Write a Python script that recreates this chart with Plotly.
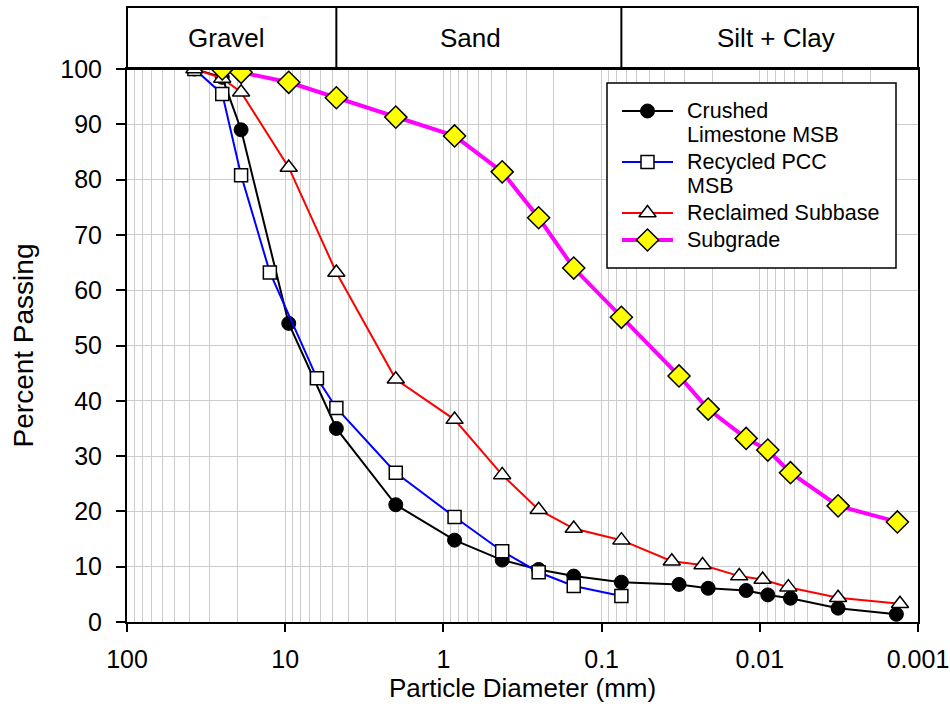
import math
import plotly.graph_objects as go

# ---- data ----
crushed_d = [37.5, 25, 19, 9.5, 4.75, 2.0, 0.85, 0.425, 0.25, 0.15, 0.075,
             0.0324, 0.0212, 0.0122, 0.0089, 0.0064, 0.0032, 0.00137]
crushed_p = [100, 98.5, 89, 54, 35, 21.2, 14.8, 11.2, 9.5, 8.3, 7.2,
             6.8, 6.1, 5.7, 4.9, 4.3, 2.5, 1.4]

pcc_d = [37.5, 25, 19, 12.5, 6.3, 4.75, 2.0, 0.85, 0.425, 0.25, 0.15, 0.075]
pcc_p = [100, 95.5, 80.8, 63.2, 44.1, 38.7, 27.0, 19.0, 12.8, 9.0, 6.5, 4.7]

reclaimed_d = [37.5, 25, 19, 9.5, 4.75, 2.0, 0.85, 0.425, 0.25, 0.15, 0.075,
               0.036, 0.023, 0.0135, 0.0096, 0.0066, 0.0032, 0.0013]
reclaimed_p = [100, 98.3, 95.8, 82.2, 63.2, 43.9, 36.6, 26.6, 20.3, 16.9, 14.8,
               11.0, 10.3, 8.3, 7.7, 6.3, 4.4, 3.3]

subgrade_d = [25, 19, 9.5, 4.75, 2.0, 0.85, 0.425, 0.25, 0.15, 0.075,
              0.0324, 0.0212, 0.0122, 0.0089, 0.0064, 0.0032, 0.00135]
subgrade_p = [100, 99.4, 97.6, 94.8, 91.3, 87.9, 81.4, 73.1, 64.0, 55.1,
              44.5, 38.5, 33.2, 31.1, 27.0, 21.0, 18.1]

series_names = [["Crushed", "Limestone MSB"], ["Recycled PCC", "MSB"],
                ["Reclaimed Subbase"], ["Subgrade"]]

x_tick_vals = [100, 10, 1, 0.1, 0.01, 0.001]
x_tick_text = ["100", "10", "1", "0.1", "0.01", "0.001"]

band_labels = ["Gravel", "Sand", "Silt + Clay"]
band_edges = [100, 4.75, 0.075, 0.001]

FONT = "Liberation Sans, Arial, sans-serif"

styles = [
    dict(line=dict(color="black", width=2),
         marker=dict(symbol="circle", size=14, color="black",
                     line=dict(color="black", width=1))),
    dict(line=dict(color="#0000ff", width=2),
         marker=dict(symbol="square", size=13, color="white",
                     line=dict(color="black", width=1.5))),
    dict(line=dict(color="#ff0000", width=2),
         marker=dict(symbol="triangle-up", size=15, color="white",
                     line=dict(color="black", width=1.5))),
    dict(line=dict(color="#ff00ff", width=4),
         marker=dict(symbol="diamond", size=17, color="#ffff00",
                     line=dict(color="black", width=1.5))),
]

data = [(crushed_d, crushed_p), (pcc_d, pcc_p),
        (reclaimed_d, reclaimed_p), (subgrade_d, subgrade_p)]

fig = go.Figure()
for (d, p), st, nm in zip(data, styles, series_names):
    fig.add_trace(go.Scatter(x=d, y=p, name=" ".join(nm),
                             mode="lines+markers", showlegend=False,
                             hoverinfo="skip", **st))

# minor grid values
minor_vals = []
for k in range(-3, 2):
    for m in range(2, 10):
        minor_vals.append(m * 10 ** k)

fig.update_xaxes(
    type="log", range=[2, -3], autorange=False, automargin=False,
    tickvals=x_tick_vals, ticktext=x_tick_text,
    ticks="outside", ticklen=8, tickwidth=1.5, tickcolor="black",
    ticklabelstandoff=6,
    showgrid=True, gridcolor="#cccccc", gridwidth=1,
    minor=dict(tickvals=minor_vals, showgrid=True, gridcolor="#cccccc",
               gridwidth=1, ticks=""),
    showline=True, linecolor="black", linewidth=2, mirror=True,
    tickfont=dict(family=FONT, size=25, color="black"),
    title=dict(text="Particle Diameter (mm)", standoff=0,
               font=dict(family=FONT, size=26, color="black")),
    zeroline=False,
)
fig.update_yaxes(
    range=[0, 100], autorange=False, automargin=False, dtick=10, tick0=0,
    ticks="outside", ticklen=9, tickwidth=1.5, tickcolor="black",
    ticklabelstandoff=9,
    showgrid=True, gridcolor="#cccccc", gridwidth=1,
    showline=True, linecolor="black", linewidth=2, mirror=True,
    tickfont=dict(family=FONT, size=25, color="black"),
    title=dict(text="Percent Passing", standoff=18,
               font=dict(family=FONT, size=28, color="black")),
    zeroline=False,
)

# band header above plot
band_top = 1.112
fig.add_shape(type="rect", xref="paper", yref="paper", x0=0, x1=1,
              y0=1, y1=band_top, line=dict(color="black", width=2),
              fillcolor="rgba(0,0,0,0)", layer="above")
for e in band_edges[1:-1]:
    fig.add_shape(type="line", xref="x", yref="paper",
                  x0=e, x1=e, y0=1, y1=band_top,
                  line=dict(color="black", width=2), layer="above")
band_shift = [-5, -8, 6]
for i, lab in enumerate(band_labels):
    c = (math.log10(band_edges[i]) + math.log10(band_edges[i + 1])) / 2
    fig.add_annotation(x=c, xref="x", y=(1 + band_top) / 2, yref="paper",
                       text=lab, showarrow=False, xshift=band_shift[i],
                       font=dict(family=FONT, size=26, color="black"),
                       xanchor="center", yanchor="middle")

# ---- custom legend on a hidden overlay axis in pixel units ----
L, R, T, B = 127, 918, 69, 622
fig.update_layout(
    xaxis2=dict(overlaying="x", range=[L, R], visible=False, fixedrange=True,
                automargin=False),
    yaxis2=dict(overlaying="y", range=[B, T], visible=False, fixedrange=True,
                automargin=False),
)


def px_to_x(px):
    return 10 ** (2 - 5 * (px - L) / (R - L))


def py_to_y(py):
    return 100 * (B - py) / (B - T)


box = (607, 896, 83, 268)
fig.add_shape(type="rect", xref="x", yref="y",
              x0=px_to_x(box[0]), x1=px_to_x(box[1]),
              y0=py_to_y(box[3]), y1=py_to_y(box[2]),
              fillcolor="white", line=dict(color="black", width=1.5),
              layer="between")
row_y = [111, 162, 213, 240]
line_x = [622, 673]
text_x = 685
line_gap = 24
for st, nm, ry in zip(styles, series_names, row_y):
    fig.add_trace(go.Scatter(x=line_x, y=[ry, ry], xaxis="x2", yaxis="y2",
                             mode="lines", line=st["line"],
                             showlegend=False, hoverinfo="skip"))
    fig.add_trace(go.Scatter(x=[sum(line_x) / 2], y=[ry], xaxis="x2",
                             yaxis="y2", mode="markers", marker=st["marker"],
                             showlegend=False, hoverinfo="skip"))
    for j, part in enumerate(nm):
        fig.add_annotation(x=text_x, y=ry + j * line_gap, xref="x2",
                           yref="y2", text=part, showarrow=False,
                           xanchor="left", yanchor="middle",
                           font=dict(family=FONT, size=21.5, color="black"))

fig.update_layout(
    width=950, height=728,
    margin=dict(l=L, r=950 - R, t=T, b=728 - B),
    paper_bgcolor="white", plot_bgcolor="white",
    showlegend=False,
)

fig.write_html("out.html")
